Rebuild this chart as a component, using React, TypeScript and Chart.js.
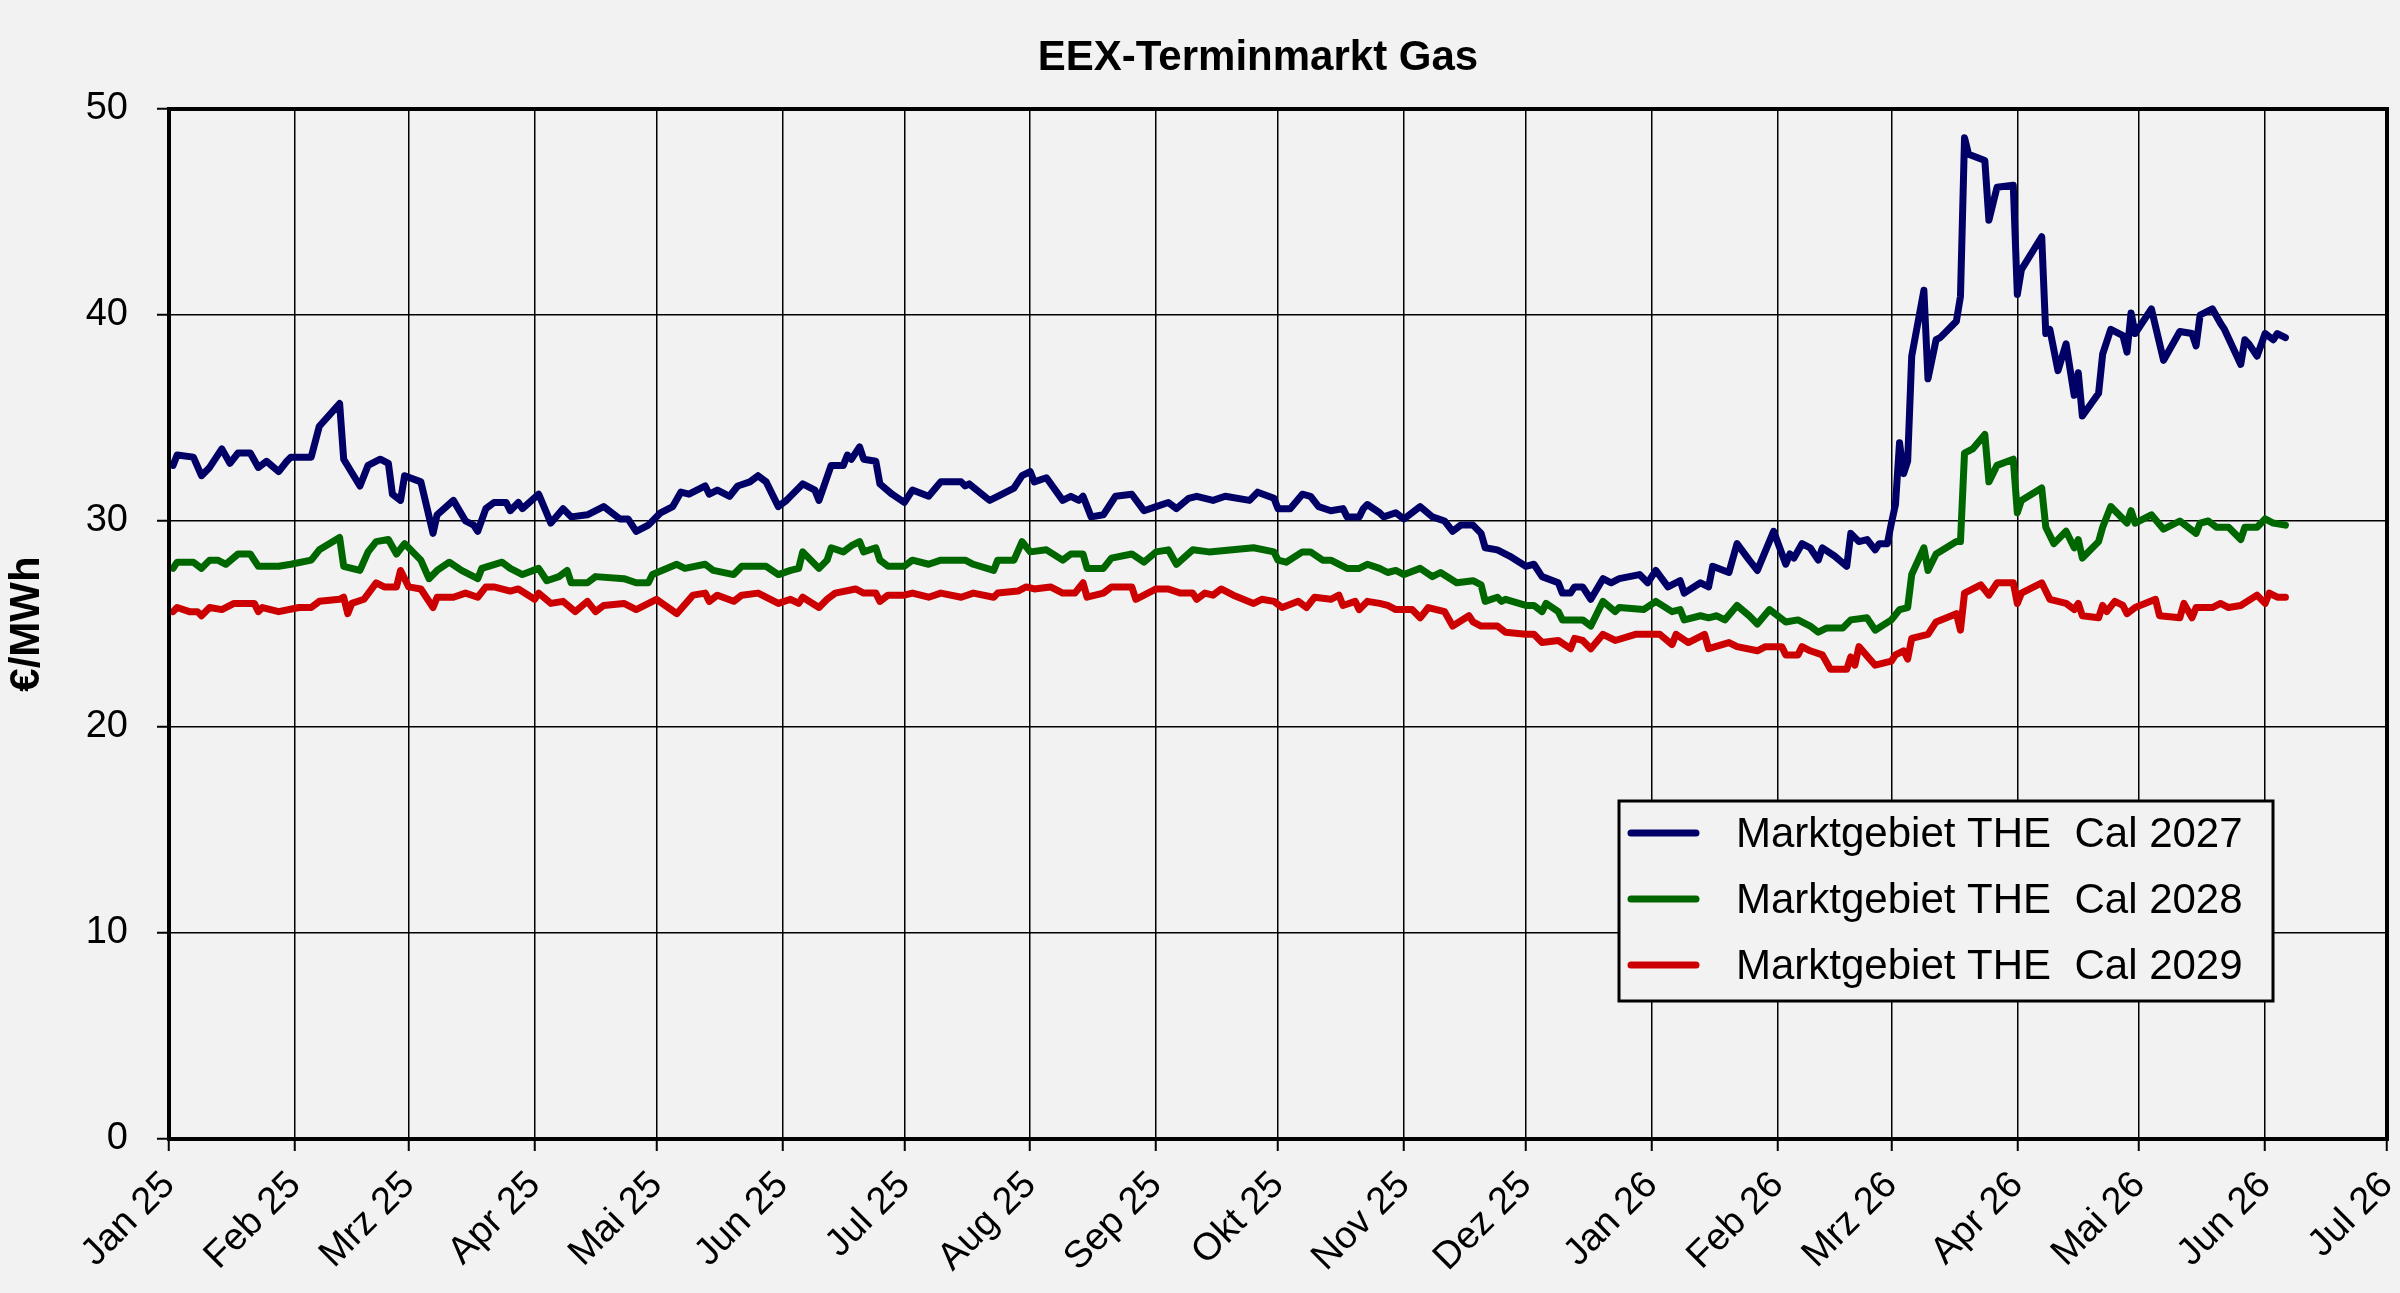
import React, { useEffect, useRef } from 'react';
import { Chart, registerables } from 'chart.js';

Chart.register(...registerables);

// x axis: days since 1 Jan 2025, one tick per month start
const monthDays = [0, 31, 59, 90, 120, 151, 181, 212, 243, 273, 304, 334, 365, 396, 424, 455, 485, 516, 546];
const monthLabels = [
  'Jan 25', 'Feb 25', 'Mrz 25', 'Apr 25', 'Mai 25', 'Jun 25', 'Jul 25', 'Aug 25', 'Sep 25',
  'Okt 25', 'Nov 25', 'Dez 25', 'Jan 26', 'Feb 26', 'Mrz 26', 'Apr 26', 'Mai 26', 'Jun 26', 'Jul 26',
];

const seriesLabels = ['Marktgebiet THE  Cal 2027', 'Marktgebiet THE  Cal 2028', 'Marktgebiet THE  Cal 2029'];
const seriesColors = ['#000066', '#006600', '#cc0000'];

// [day, €/MWh]
const cal2027: [number, number][] = [
  [1, 32.7], [2, 33.2], [6, 33.1], [8, 32.2], [10, 32.6], [13, 33.5], [15, 32.8], [17, 33.3], [20, 33.3], [22, 32.6],
  [24, 32.9], [27, 32.4], [29, 32.9], [30, 33.1], [35, 33.1], [37, 34.6], [42, 35.7], [43, 33.0], [47, 31.7], [49, 32.7],
  [52, 33.0], [54, 32.8], [55, 31.3], [57, 31.0], [58, 32.2], [62, 31.9], [65, 29.4], [66, 30.3], [70, 31.0], [73, 30.0],
  [75, 29.8], [76, 29.5], [78, 30.6], [80, 30.9], [83, 30.9], [84, 30.5], [86, 30.9], [87, 30.6], [91, 31.3], [94, 29.9],
  [97, 30.6], [99, 30.2], [103, 30.3], [107, 30.7], [111, 30.1], [113, 30.1], [115, 29.5], [118, 29.8], [121, 30.4], [124, 30.7],
  [126, 31.4], [128, 31.3], [132, 31.7], [133, 31.3], [135, 31.5], [138, 31.2], [140, 31.7], [143, 31.9], [145, 32.2], [147, 31.9],
  [150, 30.7], [152, 31.0], [154, 31.4], [156, 31.8], [159, 31.5], [160, 31.0], [163, 32.7], [166, 32.7], [167, 33.2], [168, 33.0],
  [170, 33.6], [171, 33.0], [174, 32.9], [175, 31.8], [178, 31.3], [181, 30.9], [183, 31.5], [187, 31.2], [190, 31.9], [195, 31.9],
  [196, 31.7], [197, 31.8], [202, 31.0], [204, 31.2], [208, 31.6], [210, 32.2], [212, 32.4], [213, 31.9], [216, 32.1], [220, 31.0],
  [222, 31.2], [224, 31.0], [225, 31.2], [227, 30.2], [230, 30.3], [233, 31.2], [237, 31.3], [240, 30.5], [243, 30.7], [246, 30.9],
  [248, 30.6], [251, 31.1], [253, 31.2], [257, 31.0], [260, 31.2], [266, 31.0], [268, 31.4], [272, 31.1], [273, 30.6], [276, 30.6],
  [279, 31.3], [281, 31.2], [283, 30.7], [286, 30.5], [289, 30.6], [290, 30.2], [293, 30.2], [294, 30.6], [295, 30.8], [298, 30.4],
  [299, 30.2], [302, 30.4], [304, 30.1], [308, 30.7], [311, 30.2], [314, 30.0], [316, 29.5], [318, 29.8], [321, 29.8], [323, 29.4],
  [324, 28.7], [327, 28.6], [330, 28.3], [334, 27.8], [336, 27.9], [338, 27.3], [342, 27.0], [343, 26.5], [345, 26.5], [346, 26.8],
  [348, 26.8], [350, 26.2], [353, 27.2], [355, 27.0], [357, 27.2], [362, 27.4], [364, 27.0], [366, 27.6], [369, 26.8], [372, 27.1],
  [373, 26.5], [377, 27.0], [379, 26.8], [380, 27.8], [384, 27.5], [386, 28.9], [389, 28.1], [391, 27.6], [395, 29.5], [398, 27.9],
  [399, 28.4], [400, 28.2], [402, 28.9], [404, 28.7], [406, 28.1], [407, 28.7], [410, 28.3], [413, 27.8], [414, 29.4], [416, 29.0],
  [418, 29.1], [420, 28.6], [421, 28.9], [423, 28.9], [424, 29.9], [425, 30.8], [426, 33.8], [427, 32.3], [428, 32.9], [429, 38.0],
  [432, 41.2], [433, 36.9], [435, 38.8], [436, 38.9], [440, 39.7], [441, 40.9], [442, 48.6], [443, 47.8], [447, 47.5], [448, 44.6],
  [450, 46.2], [454, 46.3], [455, 41.0], [456, 42.2], [461, 43.8], [462, 39.1], [463, 39.3], [465, 37.3], [467, 38.6], [469, 36.1],
  [470, 37.2], [471, 35.1], [475, 36.2], [476, 38.1], [478, 39.3], [481, 39.0], [482, 38.2], [483, 40.1], [484, 39.1], [488, 40.3],
  [491, 37.8], [495, 39.2], [498, 39.1], [499, 38.5], [500, 40.0], [503, 40.3], [505, 39.6], [506, 39.3], [510, 37.6], [511, 38.8],
  [512, 38.6], [514, 38.0], [516, 39.1], [518, 38.8], [519, 39.1], [521, 38.9],
];

const cal2028: [number, number][] = [
  [1, 27.7], [2, 28.0], [6, 28.0], [8, 27.7], [10, 28.1], [12, 28.1], [14, 27.9], [17, 28.4], [20, 28.4], [22, 27.8],
  [27, 27.8], [30, 27.9], [35, 28.1], [37, 28.6], [42, 29.2], [43, 27.8], [47, 27.6], [49, 28.5], [51, 29.0], [54, 29.1],
  [56, 28.4], [58, 28.9], [62, 28.1], [64, 27.2], [66, 27.6], [69, 28.0], [72, 27.6], [76, 27.2], [77, 27.7], [82, 28.0],
  [84, 27.7], [87, 27.4], [91, 27.7], [93, 27.1], [96, 27.3], [98, 27.6], [99, 27.0], [103, 27.0], [105, 27.3], [112, 27.2],
  [115, 27.0], [118, 27.0], [119, 27.4], [125, 27.9], [127, 27.7], [132, 27.9], [134, 27.6], [139, 27.4], [141, 27.8], [147, 27.8],
  [150, 27.4], [153, 27.6], [155, 27.7], [156, 28.5], [160, 27.7], [162, 28.1], [163, 28.7], [166, 28.5], [168, 28.8], [170, 29.0],
  [171, 28.5], [174, 28.7], [175, 28.1], [177, 27.8], [181, 27.8], [183, 28.1], [187, 27.9], [190, 28.1], [196, 28.1], [198, 27.9],
  [203, 27.6], [204, 28.1], [208, 28.1], [210, 29.0], [212, 28.5], [216, 28.6], [220, 28.1], [222, 28.4], [225, 28.4], [226, 27.7],
  [230, 27.7], [232, 28.2], [237, 28.4], [240, 28.0], [243, 28.5], [246, 28.6], [248, 27.9], [252, 28.6], [256, 28.5], [267, 28.7],
  [272, 28.5], [273, 28.1], [275, 28.0], [279, 28.5], [281, 28.5], [284, 28.1], [286, 28.1], [290, 27.7], [293, 27.7], [295, 27.9],
  [298, 27.7], [300, 27.5], [302, 27.6], [304, 27.4], [308, 27.7], [311, 27.3], [313, 27.5], [317, 27.0], [321, 27.1], [323, 26.9],
  [324, 26.1], [327, 26.3], [328, 26.1], [329, 26.2], [334, 25.9], [336, 25.9], [338, 25.6], [339, 26.0], [342, 25.6], [343, 25.2],
  [348, 25.2], [350, 24.9], [353, 26.1], [356, 25.6], [357, 25.8], [363, 25.7], [366, 26.1], [370, 25.6], [372, 25.7], [373, 25.2],
  [377, 25.4], [379, 25.3], [381, 25.4], [383, 25.2], [386, 25.9], [389, 25.4], [391, 25.0], [394, 25.7], [396, 25.4], [398, 25.1],
  [401, 25.2], [404, 24.9], [406, 24.6], [408, 24.8], [412, 24.8], [414, 25.2], [418, 25.3], [420, 24.7], [424, 25.2], [426, 25.7],
  [428, 25.8], [429, 27.4], [432, 28.7], [433, 27.6], [435, 28.4], [440, 29.0], [441, 29.0], [442, 33.3], [444, 33.5], [447, 34.2],
  [448, 31.9], [450, 32.7], [454, 33.0], [455, 30.4], [456, 31.0], [461, 31.6], [462, 29.7], [464, 28.9], [467, 29.5], [469, 28.7],
  [470, 29.1], [471, 28.2], [475, 29.0], [476, 29.7], [478, 30.7], [482, 29.9], [483, 30.5], [484, 29.9], [488, 30.3], [491, 29.6],
  [495, 30.0], [499, 29.4], [500, 29.9], [502, 30.0], [504, 29.7], [507, 29.7], [510, 29.1], [511, 29.7], [514, 29.7], [516, 30.1],
  [518, 29.9], [521, 29.8],
];

const cal2029: [number, number][] = [
  [1, 25.6], [2, 25.8], [5, 25.6], [7, 25.6], [8, 25.4], [10, 25.8], [13, 25.7], [16, 26.0], [21, 26.0], [22, 25.6],
  [23, 25.8], [27, 25.6], [32, 25.8], [35, 25.8], [37, 26.1], [42, 26.2], [43, 26.3], [44, 25.5], [45, 26.0], [48, 26.2],
  [51, 27.0], [53, 26.8], [56, 26.8], [57, 27.6], [59, 26.8], [62, 26.7], [65, 25.8], [66, 26.3], [70, 26.3], [73, 26.5],
  [76, 26.3], [78, 26.8], [80, 26.8], [84, 26.6], [86, 26.7], [90, 26.2], [91, 26.5], [94, 26.0], [97, 26.1], [100, 25.6],
  [103, 26.1], [105, 25.6], [107, 25.9], [112, 26.0], [115, 25.7], [120, 26.2], [125, 25.5], [129, 26.4], [132, 26.5], [133, 26.1],
  [135, 26.4], [139, 26.1], [141, 26.4], [145, 26.5], [146, 26.4], [150, 26.0], [153, 26.2], [155, 26.0], [156, 26.3], [160, 25.8],
  [162, 26.2], [164, 26.5], [169, 26.7], [171, 26.5], [174, 26.5], [175, 26.1], [177, 26.4], [181, 26.4], [183, 26.5], [187, 26.3],
  [190, 26.5], [195, 26.3], [198, 26.5], [203, 26.3], [204, 26.5], [209, 26.6], [211, 26.8], [213, 26.7], [217, 26.8], [220, 26.5],
  [223, 26.5], [225, 27.0], [226, 26.3], [230, 26.5], [232, 26.8], [237, 26.8], [238, 26.2], [243, 26.7], [246, 26.7], [249, 26.5],
  [252, 26.5], [253, 26.2], [255, 26.5], [257, 26.4], [259, 26.7], [262, 26.4], [267, 26.0], [269, 26.2], [272, 26.1], [274, 25.8],
  [278, 26.1], [280, 25.8], [282, 26.3], [286, 26.2], [288, 26.4], [289, 25.9], [292, 26.1], [293, 25.7], [295, 26.1], [298, 26.0],
  [300, 25.9], [302, 25.7], [306, 25.7], [308, 25.3], [310, 25.8], [314, 25.6], [316, 24.9], [320, 25.4], [321, 25.1], [323, 24.9],
  [327, 24.9], [329, 24.6], [334, 24.5], [336, 24.5], [338, 24.1], [342, 24.2], [345, 23.8], [346, 24.3], [348, 24.2], [350, 23.8],
  [353, 24.5], [356, 24.2], [361, 24.5], [367, 24.5], [370, 24.0], [371, 24.5], [374, 24.1], [378, 24.5], [379, 23.8], [384, 24.1],
  [386, 23.9], [391, 23.7], [393, 23.9], [397, 23.9], [398, 23.5], [401, 23.5], [402, 23.9], [404, 23.7], [407, 23.5], [409, 22.8],
  [413, 22.8], [414, 23.4], [415, 23.0], [416, 23.9], [420, 23.0], [424, 23.2], [425, 23.5], [427, 23.7], [428, 23.3], [429, 24.3],
  [433, 24.5], [435, 25.1], [440, 25.5], [441, 24.7], [442, 26.5], [446, 26.9], [448, 26.4], [450, 27.0], [454, 27.0], [455, 26.0],
  [456, 26.5], [461, 27.0], [463, 26.2], [467, 26.0], [469, 25.7], [470, 26.0], [471, 25.4], [475, 25.3], [476, 25.9], [477, 25.6],
  [479, 26.1], [481, 25.9], [482, 25.5], [484, 25.8], [489, 26.2], [490, 25.4], [495, 25.3], [496, 26.0], [498, 25.3], [499, 25.8],
  [503, 25.8], [505, 26.0], [507, 25.8], [510, 25.9], [514, 26.4], [516, 26.0], [517, 26.5], [519, 26.3], [521, 26.3],
];

const FONT = '"Liberation Sans", Arial, sans-serif';
const BG = '#f2f2f2';

// box round the plot, legend with frame, title centred over the plot
const decorations = {
  id: 'decorations',
  afterDatasetsDraw(chart: Chart) {
    const { ctx, chartArea } = chart;
    ctx.save();
    ctx.strokeStyle = '#000';
    ctx.lineWidth = 4;
    ctx.strokeRect(chartArea.left, chartArea.top, chartArea.right - chartArea.left, chartArea.bottom - chartArea.top);
    ctx.restore();
  },
  afterDraw(chart: Chart) {
    const { ctx, chartArea } = chart;
    ctx.save();

    // legend
    const lx = 1619, ly = 801, lw = 654, lh = 200;
    ctx.fillStyle = BG;
    ctx.fillRect(lx, ly, lw, lh);
    ctx.strokeStyle = '#000';
    ctx.lineWidth = 3;
    ctx.strokeRect(lx, ly, lw, lh);
    ctx.font = `42px ${FONT}`;
    ctx.textBaseline = 'middle';
    ctx.textAlign = 'left';
    chart.data.datasets.forEach((ds, i) => {
      const cy = ly + 32 + i * 66;
      ctx.strokeStyle = ds.borderColor as string;
      ctx.lineWidth = 7;
      ctx.lineCap = 'round';
      ctx.beginPath();
      ctx.moveTo(lx + 12, cy);
      ctx.lineTo(lx + 77, cy);
      ctx.stroke();
      ctx.fillStyle = '#000';
      ctx.fillText(ds.label as string, lx + 117, cy + 2);
    });

    // title
    ctx.font = `bold 42px ${FONT}`;
    ctx.textAlign = 'center';
    ctx.fillStyle = '#000';
    ctx.fillText('EEX-Terminmarkt Gas', (chartArea.left + chartArea.right) / 2 - 20, 58);
    ctx.restore();
  },
};

export default function App() {
  const chartRef = useRef<HTMLCanvasElement>(null);
  const chartInstance = useRef<Chart | null>(null);

  useEffect(() => {
    document.body.style.margin = '0';
    document.body.style.background = BG;
    if (!chartRef.current) return;
    const ctx = chartRef.current.getContext('2d');
    if (!ctx) return;

    if (chartInstance.current) chartInstance.current.destroy();

    const series = [cal2027, cal2028, cal2029];

    chartInstance.current = new Chart(ctx, {
      type: 'line',
      data: {
        datasets: series.map((s, i) => ({
          label: seriesLabels[i],
          data: s.map(([x, y]) => ({ x, y })),
          borderColor: seriesColors[i],
          backgroundColor: seriesColors[i],
          borderWidth: 7,
          borderJoinStyle: 'round' as const,
          borderCapStyle: 'round' as const,
          pointRadius: 0,
          tension: 0,
          fill: false,
        })),
      },
      options: {
        responsive: true,
        maintainAspectRatio: false,
        animation: false,
        devicePixelRatio: 1,
        events: [],
        layout: { padding: { top: 109, right: 13, bottom: 0, left: 0 } },
        plugins: {
          legend: { display: false },
          title: { display: false },
          tooltip: { enabled: false },
        },
        scales: {
          x: {
            type: 'linear',
            min: 0,
            max: 546,
            afterBuildTicks: (scale: any) => {
              scale.ticks = monthDays.map(v => ({ value: v }));
            },
            afterFit: (scale: any) => {
              scale.height = 154;
              scale.paddingLeft = 0;
              scale.paddingRight = 0;
            },
            ticks: {
              autoSkip: false,
              minRotation: 45,
              maxRotation: 45,
              padding: 12,
              color: '#000',
              font: { family: FONT, size: 38 },
              callback: (value: any) => monthLabels[monthDays.indexOf(Number(value))] ?? '',
            },
            grid: { color: '#000', lineWidth: 1.5, tickLength: 12, tickColor: '#000', tickWidth: 2 },
            border: { display: false },
          },
          y: {
            min: 0,
            max: 50,
            afterFit: (scale: any) => {
              scale.width = 169;
            },
            ticks: {
              stepSize: 10,
              padding: 29,
              color: '#000',
              font: { family: FONT, size: 38 },
            },
            title: {
              display: true,
              text: '€/MWh',
              color: '#000',
              font: { family: FONT, size: 42, weight: 'bold' },
              padding: { top: 2, bottom: 0 },
            },
            grid: { color: '#000', lineWidth: 1.5, tickLength: 12, tickColor: '#000', tickWidth: 2 },
            border: { display: false },
          },
        },
      },
      plugins: [decorations],
    });

    return () => {
      if (chartInstance.current) {
        chartInstance.current.destroy();
        chartInstance.current = null;
      }
    };
  }, []);

  return (
    <div style={{ position: 'relative', width: '2400px', height: '1293px', background: BG }}>
      <canvas ref={chartRef}></canvas>
    </div>
  );
}
